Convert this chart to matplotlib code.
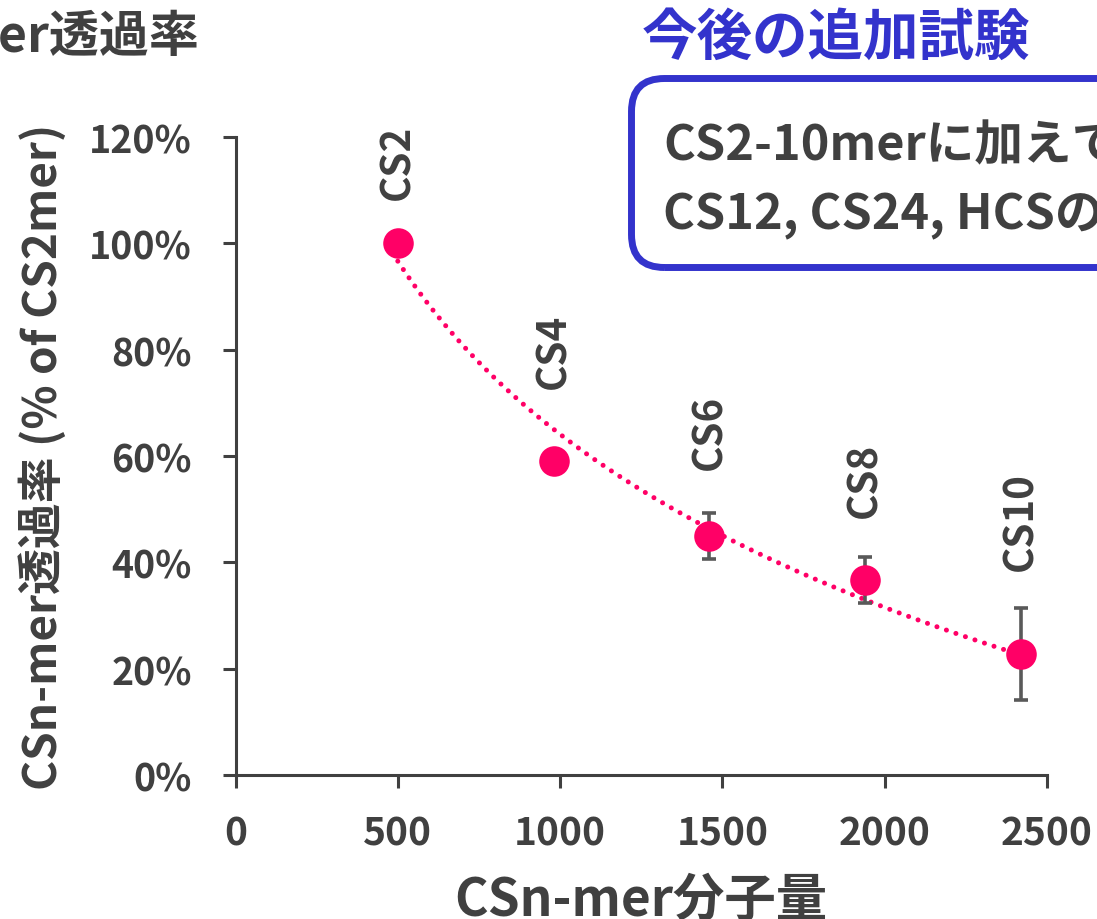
import numpy as np
import matplotlib
matplotlib.use("Agg")
import matplotlib.pyplot as plt
from matplotlib.patches import FancyBboxPatch
from matplotlib.ticker import FuncFormatter

plt.rcParams['font.family'] = ['Noto Sans CJK JP', 'DejaVu Sans']
plt.rcParams['font.weight'] = 'bold'

# ---- data ----
labels = ["CS2", "CS4", "CS6", "CS8", "CS10"]
mol_weight = [500, 980, 1460, 1940, 2420]
permeability = [1.00, 0.59, 0.45, 0.367, 0.228]
errors = [0.0, 0.0, 0.043, 0.043, 0.087]
label_offsets_pt = [32, 53, 48, 45, 60]   # layout only
xticks = [0, 500, 1000, 1500, 2000, 2500]
yticks = [0.0, 0.2, 0.4, 0.6, 0.8, 1.0, 1.2]

TXT = '#404040'
PINK = '#FF0066'
BLUE = '#3333CC'

W, H = 1097, 920
fig = plt.figure(figsize=(W / 100, H / 100), dpi=100)
ax = fig.add_axes([235.5 / W, 1 - 776 / H, (1047 - 235.5) / W, (776 - 138) / H])

# logarithmic trend line fitted to the data
lx = np.log(mol_weight)
b, a = np.polyfit(lx, permeability, 1)
xt = np.linspace(mol_weight[0], mol_weight[-1], 200)
ax.plot(xt, a + b * np.log(xt), color=PINK, lw=3.6,
        linestyle=(0, (0.01, 2.0)), dash_capstyle='round', zorder=2)

ax.errorbar(mol_weight, permeability, yerr=errors, fmt='none',
            ecolor='#595959', elinewidth=2.6, capsize=5, capthick=2.6, zorder=3)
ax.plot(mol_weight, permeability, 'o', color=PINK, ms=22, mec='none', zorder=4)

for lab, xv, yv, off in zip(labels, mol_weight, permeability, label_offsets_pt):
    ax.annotate(lab, (xv, yv), xytext=(0, off), textcoords='offset points',
                rotation=90, ha='center', va='bottom', fontsize=29,
                fontweight='bold', color=TXT)

ax.set_xlim(0, 2500)
ax.set_ylim(0, 1.2)
ax.set_xticks(xticks)
ax.set_yticks(yticks)
ax.yaxis.set_major_formatter(FuncFormatter(lambda v, p: f"{v*100:.0f}%"))
for s in ['top', 'right']:
    ax.spines[s].set_visible(False)
for s in ['left', 'bottom']:
    ax.spines[s].set_color(TXT)
    ax.spines[s].set_linewidth(2.2)
ax.tick_params(axis='both', direction='out', length=9.5, width=2.2, color=TXT,
               labelcolor=TXT)
ax.tick_params(axis='x', labelsize=28, pad=18)
ax.tick_params(axis='y', labelsize=27, pad=22)
for t in ax.get_xticklabels() + ax.get_yticklabels():
    t.set_fontweight('bold')

ax.set_xlabel("CSn-mer分子量", fontsize=37, fontweight='bold', color=TXT,
              va='center')
ax.xaxis.set_label_coords(0.5, -(900 - 776) / (776 - 138))
ax.set_ylabel("CSn-mer透過率 (% of CS2mer)", fontsize=33, fontweight='bold',
              color=TXT, va='center', ha='center')
ax.yaxis.set_label_coords((43 - 235.5) / (1047 - 235.5), 0.5)

# top-left cut-off title
fig.text(199 / W, 1 - 38 / H, "CSn-mer透過率", fontsize=36, fontweight='bold',
         color=TXT, ha='right', va='center')

# blue heading
fig.text(642 / W, 1 - 39 / H, "今後の追加試験", fontsize=40, fontweight='bold',
         color=BLUE, ha='left', va='center')

# rounded box (extends past right edge)
box = FancyBboxPatch((631.5 / W, 1 - 268.5 / H), (1300 - 631.5) / W,
                     (268.5 - 79.5) / H,
                     boxstyle="round,pad=0,rounding_size=0.03",
                     transform=fig.transFigure, fill=False,
                     edgecolor=BLUE, linewidth=5, clip_on=False,
                     mutation_aspect=W / H)
fig.add_artist(box)
fig.text(663 / W, 1 - 146 / H, "CS2-10merに加えて", fontsize=35,
         fontweight='bold', color=TXT, ha='left', va='center')
fig.text(663 / W, 1 - 213 / H, "CS12, CS24, HCSの透過率も評価", fontsize=35,
         fontweight='bold', color=TXT, ha='left', va='center')

fig.savefig("out.png", dpi=100)
